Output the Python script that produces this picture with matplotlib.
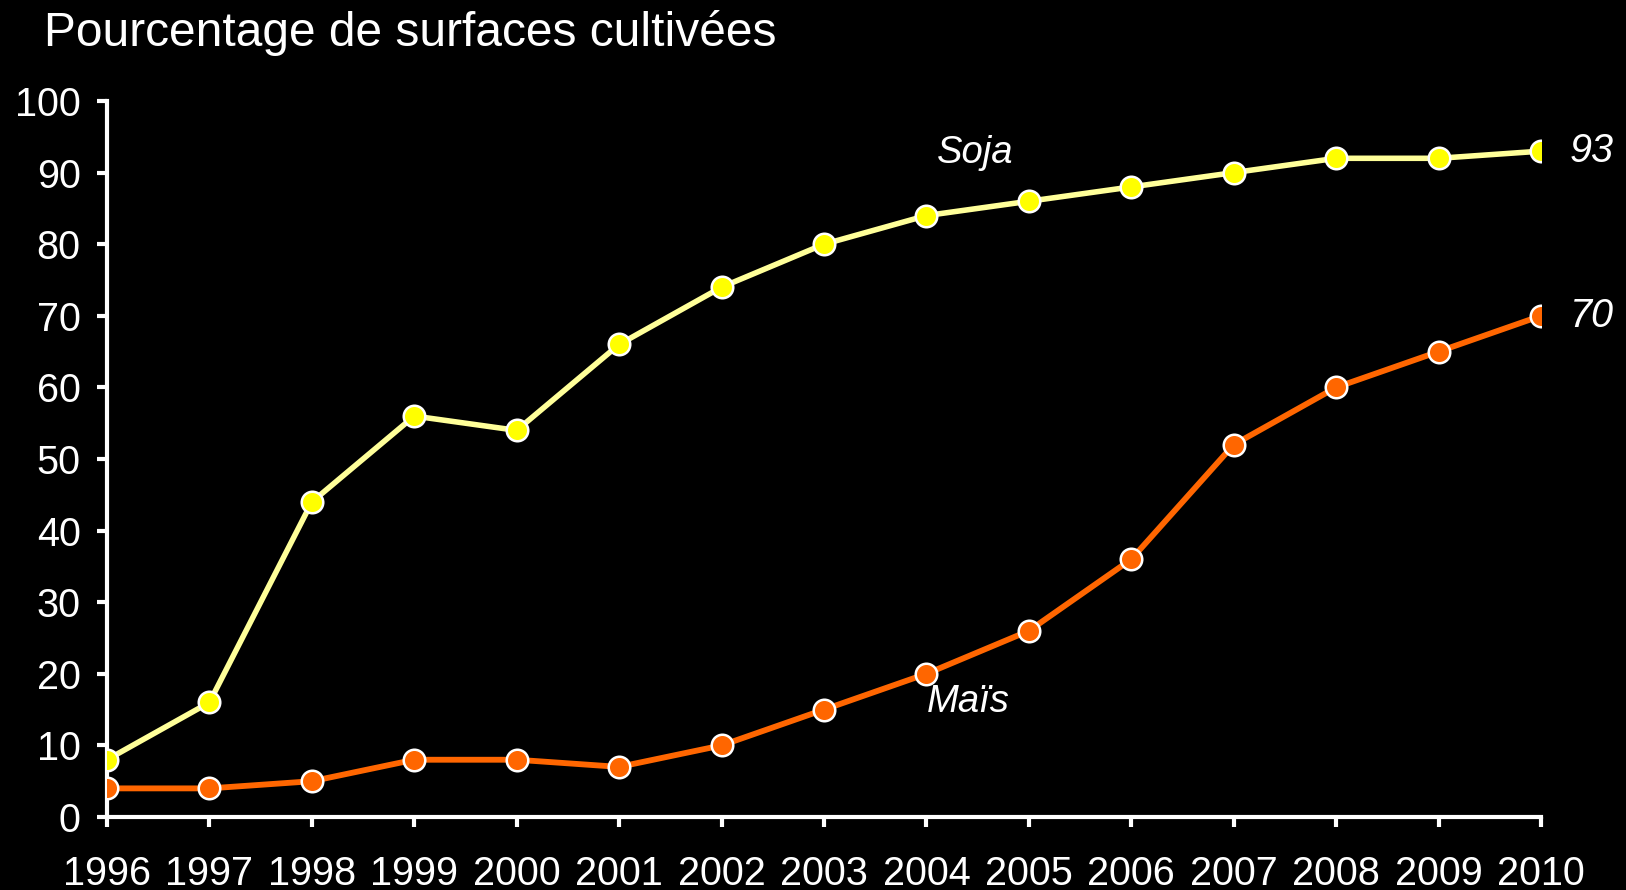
import matplotlib
matplotlib.use("Agg")
import matplotlib.pyplot as plt

years = list(range(1996, 2011))
soja = [8, 16, 44, 56, 54, 66, 74, 80, 84, 86, 88, 90, 92, 92, 93]
mais = [4, 4, 5, 8, 8, 7, 10, 15, 20, 26, 36, 52, 60, 65, 70]
yticks = list(range(0, 101, 10))

plt.rcParams["font.family"] = ["Liberation Sans", "DejaVu Sans"]

fig = plt.figure(figsize=(16.26, 8.9), dpi=100, facecolor="black")
ax = fig.add_axes([0.0658, 0.082, 0.8819, 0.8045], facecolor="black")

ax.plot(years, soja, "-", color="#FFFF99", lw=4, zorder=2)
ax.plot(years, soja, "o", color="#FFFF00", ms=15.5, mec="white", mew=1.8, zorder=3)
ax.plot(years, mais, "-", color="#FF6600", lw=4.2, zorder=2)
ax.plot(years, mais, "o", color="#FF6600", ms=15.5, mec="white", mew=1.8, zorder=3)

ax.set_xlim(years[0], years[-1])
ax.set_ylim(0, 100)
ax.set_xticks(years)
ax.set_yticks(yticks)
for s in ("top", "right"):
    ax.spines[s].set_visible(False)
for s in ("left", "bottom"):
    ax.spines[s].set_color("white")
    ax.spines[s].set_linewidth(3)
ax.tick_params(axis="y", colors="white", labelsize=28.5, length=7, width=3, pad=12)
ax.tick_params(axis="x", colors="white", labelsize=28.5, length=7, width=3, pad=20)
for lab in ax.get_xticklabels() + ax.get_yticklabels():
    lab.set_color("white")

ax.text(0.027, 0.963, "Pourcentage de surfaces cultivées", transform=fig.transFigure,
        color="white", fontsize=34.5, ha="left", va="center")
ax.text(2004.48, 92.8, "Soja", color="white", fontsize=27.5, style="italic", ha="center", va="center")
ax.text(2004.41, 16.0, "Maïs", color="white", fontsize=27.5, style="italic", ha="center", va="center")
ax.text(2010.28, soja[-1], str(soja[-1]), color="white", fontsize=28.5, style="italic",
        ha="left", va="center", clip_on=False)
ax.text(2010.28, mais[-1], str(mais[-1]), color="white", fontsize=28.5, style="italic",
        ha="left", va="center", clip_on=False)

fig.savefig("out.png", dpi=100, facecolor="black")
